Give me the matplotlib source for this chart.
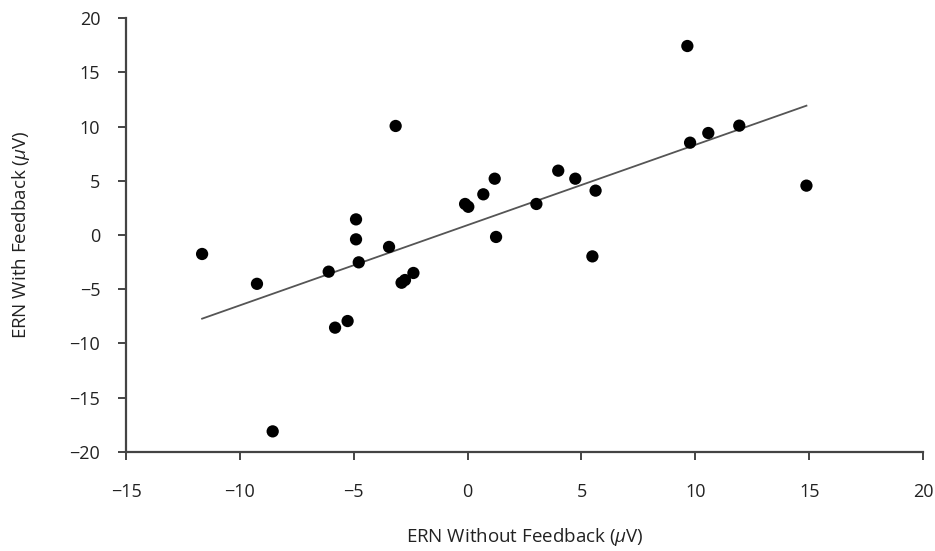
import numpy as np
import matplotlib.pyplot as plt

plt.rcParams['font.family'] = ['Open Sans', 'DejaVu Sans']
plt.rcParams['mathtext.fontset'] = 'custom'
plt.rcParams['mathtext.it'] = 'Open Sans:italic'
plt.rcParams['mathtext.rm'] = 'Open Sans'

# ERN amplitudes (uV)
ern_without = [-11.66, -9.25, -8.56, -6.10, -5.82, -5.27, -4.78, -4.90, -4.90,
               -3.45, -3.16, -2.90, -2.75, -2.38, -0.11, 0.03, 0.69, 1.19,
               1.25, 3.02, 3.98, 4.73, 5.62, 5.48, 9.65, 9.77, 10.57, 11.93,
               14.88]
ern_with = [-1.75, -4.50, -18.10, -3.38, -8.54, -7.93, -2.52, 1.44, -0.40,
            -1.10, 10.05, -4.40, -4.15, -3.50, 2.86, 2.60, 3.75, 5.19,
            -0.18, 2.86, 5.93, 5.19, 4.09, -1.97, 17.42, 8.51, 9.40, 10.08,
            4.55]

x_ticks = [-15, -10, -5, 0, 5, 10, 15, 20]
y_ticks = [-20, -15, -10, -5, 0, 5, 10, 15, 20]

x = np.array(ern_without)
y = np.array(ern_with)
slope, intercept = np.polyfit(x, y, 1)
xfit = np.array([x.min(), x.max()])

fig = plt.figure(figsize=(9.35, 5.51), dpi=100)
ax = fig.add_axes([0.1348, 0.1797, 0.8524, 0.7876])

ax.plot(xfit, slope * xfit + intercept, color='#555555', lw=1.3, zorder=2)
ax.scatter(x, y, s=78, color='black', edgecolors='none', zorder=3)

ax.set_xlim(-15, 20)
ax.set_ylim(-20, 20)
ax.set_xticks(x_ticks)
ax.set_yticks(y_ticks)
ax.set_xticklabels([str(t).replace('-', '\u2212') for t in x_ticks])
ax.set_yticklabels([str(t).replace('-', '\u2212') for t in y_ticks])

for side in ('top', 'right'):
    ax.spines[side].set_visible(False)
for side in ('left', 'bottom'):
    ax.spines[side].set_color('#444444')
    ax.spines[side].set_linewidth(1.6)

ax.tick_params(axis='both', direction='out', length=5.5, width=1.4,
               color='#444444', labelsize=13, labelcolor='#222222')
ax.tick_params(axis='x', pad=17)
ax.tick_params(axis='y', pad=13)

ax.set_xlabel(r'ERN Without Feedback ($\mu$V)', fontsize=13.5, color='#222222',
              labelpad=18)
ax.set_ylabel(r'ERN With Feedback ($\mu$V)', fontsize=13.5, color='#222222',
              labelpad=27)

fig.savefig('out.png', dpi=100)
